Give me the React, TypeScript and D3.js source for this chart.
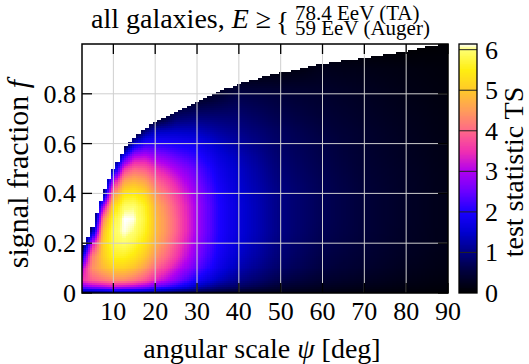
import React, { useRef, useEffect } from "react";
import * as d3 from "d3";

// grid the map was read on: angular scale psi (deg) and signal fraction f
const psiCols = [2.5, 5, 7.5, 10, 12.5, 15, 17.5, 20, 25, 30, 35, 40, 50, 60, 70, 80, 90];
const fRows = [0, 0.025, 0.05, 0.1, 0.15, 0.2, 0.25, 0.3, 0.35, 0.4, 0.45, 0.5, 0.55, 0.6, 0.65, 0.7, 0.8, 0.9, 1.0];

// TS for each psi column, from f = 0 upwards
const tsByPsi = [
  [0.8, 2.6, 3.5, 3.0, 1.6, 0, 0, 0, 0, 0, 0, 0, 0, 0, 0, 0, 0, 0, 0],
  [0.8, 2.9, 3.9, 4.4, 4.2, 3.2, 1.2, 0, 0, 0, 0, 0, 0, 0, 0, 0, 0, 0, 0],
  [0.9, 3.0, 4.1, 4.8, 5.05, 5.1, 4.85, 4.2, 2.8, 0.8, 0, 0, 0, 0, 0, 0, 0, 0, 0],
  [1.0, 3.2, 4.3, 5.1, 5.6, 5.8, 5.9, 5.7, 5.2, 4.3, 3.0, 1.2, 0, 0, 0, 0, 0, 0, 0],
  [1.0, 3.1, 4.3, 5.1, 5.6, 5.95, 6.12, 6.15, 5.95, 5.4, 4.6, 3.5, 2.0, 0, 0, 0, 0, 0, 0],
  [1.0, 3.0, 4.1, 4.9, 5.4, 5.75, 6.0, 6.12, 6.0, 5.5, 4.8, 4.0, 3.0, 1.6, 0, 0, 0, 0, 0],
  [0.9, 2.8, 3.8, 4.5, 5.0, 5.35, 5.6, 5.7, 5.6, 5.2, 4.6, 3.9, 3.1, 2.1, 1.0, 0, 0, 0, 0],
  [0.8, 2.5, 3.4, 4.0, 4.45, 4.75, 4.9, 4.9, 4.8, 4.5, 4.05, 3.5, 2.85, 2.1, 1.4, 0.3, 0, 0, 0],
  [0.6, 2.0, 2.7, 3.2, 3.6, 3.8, 3.95, 3.95, 3.85, 3.65, 3.35, 2.95, 2.45, 1.95, 1.45, 0.9, 0, 0, 0],
  [0.5, 1.4, 1.9, 2.4, 2.65, 2.8, 2.9, 2.9, 2.9, 2.8, 2.6, 2.4, 2.1, 1.8, 1.4, 1.0, 0.2, 0, 0],
  [0.4, 1.0, 1.4, 1.75, 1.9, 2.0, 2.05, 2.05, 2.05, 2.0, 1.9, 1.8, 1.65, 1.45, 1.2, 0.95, 0.4, 0, 0],
  [0.3, 0.8, 1.05, 1.3, 1.45, 1.55, 1.6, 1.6, 1.6, 1.55, 1.5, 1.45, 1.35, 1.2, 1.05, 0.9, 0.6, 0, 0],
  [0.2, 0.45, 0.62, 0.8, 0.9, 0.95, 1.0, 1.0, 1.0, 1.0, 0.95, 0.9, 0.85, 0.8, 0.75, 0.65, 0.5, 0.1, 0],
  [0.15, 0.3, 0.42, 0.55, 0.6, 0.65, 0.68, 0.7, 0.7, 0.7, 0.68, 0.65, 0.62, 0.6, 0.55, 0.5, 0.4, 0.25, 0],
  [0.1, 0.22, 0.3, 0.4, 0.45, 0.48, 0.5, 0.5, 0.5, 0.5, 0.48, 0.46, 0.44, 0.42, 0.4, 0.36, 0.3, 0.2, 0],
  [0.08, 0.15, 0.2, 0.26, 0.3, 0.32, 0.33, 0.34, 0.34, 0.34, 0.33, 0.32, 0.3, 0.29, 0.27, 0.25, 0.2, 0.15, 0],
  [0.05, 0.09, 0.12, 0.16, 0.18, 0.2, 0.2, 0.2, 0.2, 0.2, 0.2, 0.19, 0.18, 0.17, 0.16, 0.15, 0.12, 0.1, 0.05],
];

// upper edge of the allowed region (white above it)
const edgePsi = [2.5, 5, 7.5, 10, 12.5, 15, 17.5, 20, 25, 30, 35, 40, 45, 50, 60, 70, 80, 87, 90];
const edgeF = [0.17, 0.265, 0.395, 0.5, 0.58, 0.625, 0.66, 0.69, 0.725, 0.77, 0.81, 0.84, 0.865, 0.885, 0.92, 0.945, 0.972, 0.995, 1.0];

const xTicks = [10, 20, 30, 40, 50, 60, 70, 80, 90];
const yTicks = [0, 0.2, 0.4, 0.6, 0.8];
const yTickLabels = ["0", "0.2", "0.4", "0.6", "0.8"];
const cbTicks = [0, 1, 2, 3, 4, 5, 6];

const cbStops = [0, 0.5, 1, 1.5, 2, 2.5, 3, 3.5, 4, 4.5, 5, 5.5, 6, 6.14];
const cbColors = ["#000000", "#000038", "#000080", "#0000d0", "#1a00ff", "#6a00ff", "#b000f0",
  "#f030b0", "#ff6888", "#ff9c5a", "#ffc82a", "#ffee10", "#ffff70", "#ffffff"];

const W = 529, H = 364;
const font = "'Liberation Serif', 'Times New Roman', serif";

const idx = (arr: number[], v: number) =>
  Math.max(0, Math.min(arr.length - 2, d3.bisectRight(arr, v) - 1));

function tsAt(p: number, f: number) {
  const i = idx(psiCols, p), j = idx(fRows, f);
  const tp = Math.max(0, Math.min(1, (p - psiCols[i]) / (psiCols[i + 1] - psiCols[i])));
  const tf = Math.max(0, Math.min(1, (f - fRows[j]) / (fRows[j + 1] - fRows[j])));
  const a = tsByPsi[i][j], b = tsByPsi[i + 1][j];
  const c = tsByPsi[i][j + 1], d = tsByPsi[i + 1][j + 1];
  return (a * (1 - tp) + b * tp) * (1 - tf) + (c * (1 - tp) + d * tp) * tf;
}

const App = () => {
  const svgRef = useRef<SVGSVGElement>(null);

  useEffect(() => {
    const svg = d3.select(svgRef.current);
    svg.selectAll("*").remove();
    const m = { left: 82, right: 448, top: 44, bottom: 293 };

    const x = d3.scaleLinear().domain([2.5, 90]).range([m.left, m.right]);
    const y = d3.scaleLinear().domain([0, 1]).range([m.bottom, m.top]);
    const color = d3.scaleLinear<string>().domain(cbStops).range(cbColors).clamp(true);
    const fEdge = d3.scaleLinear().domain(edgePsi).range(edgeF).clamp(true);

    svg.append("rect").attr("x", m.left).attr("y", m.top)
      .attr("width", m.right - m.left).attr("height", m.bottom - m.top).attr("fill", "#fff");

    // heat map cells
    const dp = 0.5, df = 0.008;
    const cells: { p: number; f: number; v: number }[] = [];
    for (let p = 2.5; p < 90; p += dp) {
      const pc = p + dp / 2;
      const top = fEdge(Math.round(pc));
      for (let f = 0; f < 1; f += df) {
        const fc = f + df / 2;
        if (fc > top) break;
        cells.push({ p, f, v: tsAt(pc, fc) });
      }
    }
    svg.append("g").attr("shape-rendering", "crispEdges")
      .selectAll("rect").data(cells).join("rect")
      .attr("x", (d) => x(d.p))
      .attr("y", (d) => y(d.f + df))
      .attr("width", x(2.5 + dp) - x(2.5) + 0.4)
      .attr("height", y(0) - y(df) + 0.4)
      .attr("fill", (d) => color(d.v));

    // grid
    const grid = svg.append("g").attr("stroke", "#cfcfcf").attr("stroke-width", 1);
    xTicks.filter((t) => t < 90).forEach((t) => {
      grid.append("line").attr("x1", x(t)).attr("x2", x(t)).attr("y1", m.top).attr("y2", m.bottom);
    });
    yTicks.filter((t) => t > 0).forEach((t) => {
      grid.append("line").attr("x1", m.left).attr("x2", m.right).attr("y1", y(t)).attr("y2", y(t));
    });

    // ticks
    const tk = svg.append("g").attr("stroke", "#000").attr("stroke-width", 1.3);
    const L = 10;
    xTicks.forEach((t) => {
      tk.append("line").attr("x1", x(t)).attr("x2", x(t)).attr("y1", m.bottom).attr("y2", m.bottom - L);
      tk.append("line").attr("x1", x(t)).attr("x2", x(t)).attr("y1", m.top).attr("y2", m.top + L);
    });
    yTicks.forEach((t) => {
      tk.append("line").attr("x1", m.left).attr("x2", m.left + L).attr("y1", y(t)).attr("y2", y(t));
      tk.append("line").attr("x1", m.right).attr("x2", m.right - L).attr("y1", y(t)).attr("y2", y(t));
    });

    svg.append("rect").attr("x", m.left).attr("y", m.top)
      .attr("width", m.right - m.left).attr("height", m.bottom - m.top)
      .attr("fill", "none").attr("stroke", "#000").attr("stroke-width", 1.5);

    // tick labels
    const txt = svg.append("g").attr("font-family", font).attr("fill", "#000");
    xTicks.forEach((t) => {
      txt.append("text").attr("x", x(t)).attr("y", 320).attr("text-anchor", "middle")
        .attr("font-size", 26).text(t);
    });
    yTicks.forEach((t, i) => {
      txt.append("text").attr("x", 76).attr("y", y(t) + 9).attr("text-anchor", "end")
        .attr("font-size", 26).text(yTickLabels[i]);
    });

    // axis labels
    const xl = txt.append("text").attr("x", 262).attr("y", 358).attr("text-anchor", "middle")
      .attr("font-size", 28);
    xl.append("tspan").text("angular scale ");
    xl.append("tspan").attr("font-style", "italic").text("ψ");
    xl.append("tspan").text(" [deg]");

    const yl = txt.append("text").attr("transform", "translate(28,174) rotate(-90)")
      .attr("text-anchor", "middle").attr("font-size", 30);
    yl.append("tspan").text("signal fraction ");
    yl.append("tspan").attr("font-style", "italic").text("f");

    // title with the two energy thresholds stacked behind a brace
    const tl = txt.append("text").attr("x", 91).attr("y", 28).attr("font-size", 28);
    tl.append("tspan").text("all galaxies, ");
    tl.append("tspan").attr("font-style", "italic").text("E");
    tl.append("tspan").text(" ≥");
    tl.append("tspan").attr("x", 276).attr("y", 31).attr("font-size", 27).text("{");
    tl.append("tspan").attr("x", 295).attr("y", 19.5).attr("font-size", 21).text("78.4 EeV (TA)");
    tl.append("tspan").attr("x", 295).attr("y", 35).attr("font-size", 21).text("59 EeV (Auger)");

    // colour bar
    const cb = { left: 459, right: 477 };
    const c = d3.scaleLinear().domain([0, 6.14]).range([m.bottom, m.top]);
    const steps = d3.range(0, 6.14, 0.02);
    svg.append("g").attr("shape-rendering", "crispEdges")
      .selectAll("rect").data(steps).join("rect")
      .attr("x", cb.left).attr("width", cb.right - cb.left)
      .attr("y", (d) => c(Math.min(d + 0.02, 6.14)))
      .attr("height", c(0) - c(0.025))
      .attr("fill", (d) => color(d + 0.01));
    cbTicks.filter((t) => t > 0).forEach((t) => {
      svg.append("line").attr("x1", cb.left).attr("x2", cb.right).attr("y1", c(t)).attr("y2", c(t))
        .attr("stroke", "#222").attr("stroke-width", 1);
    });
    svg.append("rect").attr("x", cb.left).attr("y", m.top)
      .attr("width", cb.right - cb.left).attr("height", m.bottom - m.top)
      .attr("fill", "none").attr("stroke", "#000").attr("stroke-width", 1.3);
    cbTicks.forEach((t) => {
      txt.append("text").attr("x", 485).attr("y", c(t) + 9).attr("font-size", 26).text(t);
    });
    txt.append("text").attr("transform", "translate(523,172) rotate(-90)")
      .attr("text-anchor", "middle").attr("font-size", 28).text("test statistic TS");
  }, []);

  return (
    <svg ref={svgRef} width={W} height={H}
      style={{ position: "absolute", left: 0, top: 0, background: "#fff" }} />
  );
};

export default App;
